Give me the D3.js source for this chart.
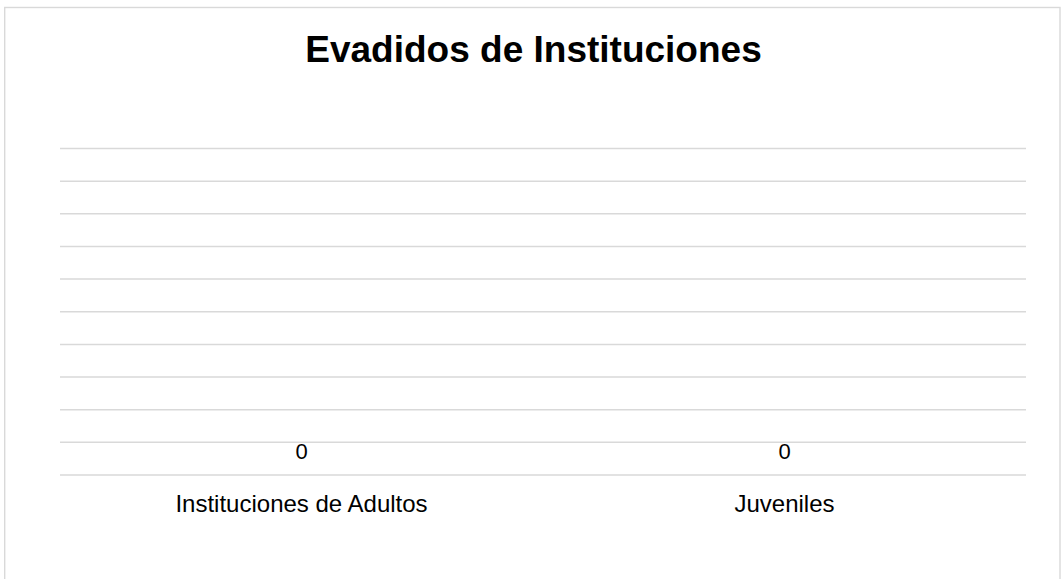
<!DOCTYPE html>
<html>
<head>
<meta charset="utf-8">
<script src="https://cdn.jsdelivr.net/npm/d3@7"></script>
<style>
  html, body { margin: 0; padding: 0; background: #fff; }
  svg { display: block; }
  text { font-family: Arial, "Liberation Sans", sans-serif; fill: #000; }
</style>
</head>
<body>
<svg id="chart" width="1063" height="579"></svg>
<script>
const title = "Evadidos de Instituciones";
const categories = ["Instituciones de Adultos", "Juveniles"];
const values = [0, 0];
const yDomain = [0, 1];
const yTicks = [0, 0.1, 0.2, 0.3, 0.4, 0.5, 0.6, 0.7, 0.8, 0.9, 1];

const W = 1063, H = 579;
const plot = { left: 60, right: 1026, top: 148, bottom: 474.5 };

const svg = d3.select("#chart");

// outer chart border (bottom edge lies below the visible area)
svg.append("rect")
  .attr("x", 4.7).attr("y", 7.5)
  .attr("width", 1060 - 4.7).attr("height", H)
  .attr("fill", "none")
  .attr("stroke", "#d9d9d9")
  .attr("stroke-width", 1.4);

const x = d3.scaleBand().domain(categories).range([plot.left, plot.right]).paddingInner(0).paddingOuter(0);
const y = d3.scaleLinear().domain(yDomain).range([plot.bottom, plot.top]);

// gridlines via axis
const grid = svg.append("g")
  .attr("transform", `translate(${plot.left},0)`)
  .call(d3.axisLeft(y).tickValues(yTicks).tickSize(-(plot.right - plot.left)).tickFormat(""));
grid.select(".domain").remove();
grid.selectAll(".tick line").attr("stroke", "#d9d9d9").attr("stroke-width", 1.5);

// bars (zero height)
svg.append("g").selectAll("rect")
  .data(values)
  .join("rect")
  .attr("x", (d, i) => x(categories[i]) + x.bandwidth() * 0.25)
  .attr("width", x.bandwidth() * 0.5)
  .attr("y", d => y(d))
  .attr("height", d => y(0) - y(d))
  .attr("fill", "#4472c4");

// data labels
svg.append("g").selectAll("text")
  .data(values)
  .join("text")
  .attr("x", (d, i) => x(categories[i]) + x.bandwidth() / 2)
  .attr("y", d => y(d) - 15.5)
  .attr("text-anchor", "middle")
  .attr("font-size", "22px")
  .text(d => d3.format("d")(d));

// category axis
const xa = svg.append("g")
  .attr("transform", `translate(0,${plot.bottom})`)
  .call(d3.axisBottom(x).tickSize(0).tickPadding(0));
xa.select(".domain").remove();
xa.selectAll(".tick text")
  .attr("y", 37.5).attr("dy", null)
  .attr("font-size", "24px")
  .style("font-family", "Arial, 'Liberation Sans', sans-serif")
  .attr("fill", "#000");

// title
svg.append("text")
  .attr("x", 533.5).attr("y", 62)
  .attr("text-anchor", "middle")
  .attr("font-size", "37px")
  .attr("font-weight", "bold")
  .text(title);
</script>
</body>
</html>
